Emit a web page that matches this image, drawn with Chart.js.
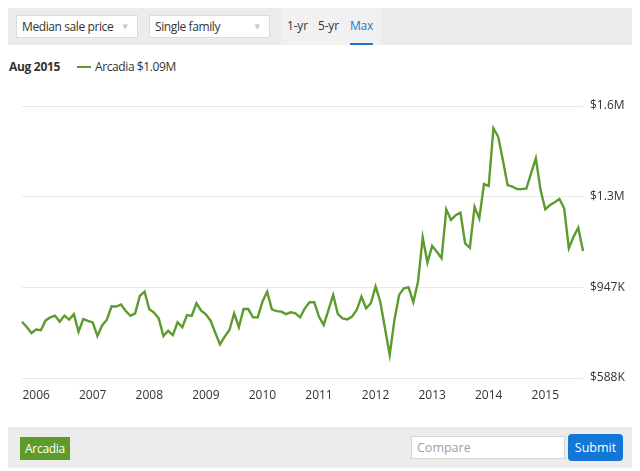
<!DOCTYPE html>
<html>
<head>
<meta charset="utf-8">
<script src="https://cdn.jsdelivr.net/npm/chart.js@4"></script>
<style>
  html, body { margin: 0; padding: 0; background: #fff; width: 640px; height: 471px; overflow: hidden; font-family: "Open Sans", "DejaVu Sans", sans-serif; color: #333; }
  .abs { position: absolute; }
  #topbar { left: 8px; top: 8px; width: 624px; height: 37px; background: #ececec; }
  #tabs { left: 281px; top: 8px; width: 100px; height: 37px; background: #f1f1f1; }
  .dd { background: #fff; border: 1px solid #dcdcdc; box-sizing: border-box; height: 23px; top: 15px; font-size: 12px; letter-spacing: -0.4px; line-height: 21px; padding-left: 5px; color: #333; }
  .dd span { position: absolute; right: 9px; top: 0; color: #c8c8c8; font-size: 7px; letter-spacing: 0; }
  .tab { top: 15px; font-size: 12px; letter-spacing: -0.2px; line-height: 22px; color: #333; }
  #max { color: #1a78cf; }
  #maxline { left: 350px; top: 43px; width: 23px; height: 2px; background: #1a78cf; }
  #date { left: 9px; top: 58px; font-size: 12px; letter-spacing: -0.3px; font-weight: bold; color: #333; line-height: 17px; }
  #legline { left: 77px; top: 66px; width: 14px; height: 2px; background: #5e9b2e; }
  #legtxt { left: 95px; top: 58px; font-size: 12px; letter-spacing: -0.4px; line-height: 17px; color: #333; }
  #chartwrap { left: 0; top: 90px; width: 640px; height: 330px; }
  #botbar { left: 8px; top: 427px; width: 624px; height: 41px; background: #ececec; }
  #arc { left: 20px; top: 437px; width: 50px; height: 23px; background: #5c9b2c; color: #fff; font-size: 12px; letter-spacing: -0.3px; line-height: 23px; text-align: center; }
  #cmp { left: 411px; top: 436px; width: 154px; height: 23px; background: #fff; border: 1px solid #d6d6d6; box-sizing: border-box; color: #a0a0a0; font-size: 12.5px; line-height: 21px; padding-left: 5px; }
  #sub { left: 568px; top: 434px; width: 55px; height: 27px; background: #1277d6; border-radius: 4px; color: #fff; font-size: 12.5px; line-height: 27px; text-align: center; }
</style>
</head>
<body>
<div id="topbar" class="abs"></div>
<div id="tabs" class="abs"></div>
<div class="abs dd" style="left:16px;width:122px;">Median sale price<span>▼</span></div>
<div class="abs dd" style="left:149px;width:121px;">Single family<span>▼</span></div>
<div class="abs tab" style="left:287px;">1-yr</div>
<div class="abs tab" style="left:318px;">5-yr</div>
<div class="abs tab" id="max" style="left:350px;">Max</div>
<div id="maxline" class="abs"></div>
<div id="date" class="abs">Aug 2015</div>
<div id="legline" class="abs"></div>
<div id="legtxt" class="abs">Arcadia $1.09M</div>
<div id="chartwrap" class="abs"><canvas id="c" width="640" height="330"></canvas></div>
<div id="botbar" class="abs"></div>
<div id="arc" class="abs">Arcadia</div>
<div id="cmp" class="abs">Compare</div>
<div id="sub" class="abs">Submit</div>
<script>
// Monthly median sale price, Arcadia, single family, Sep 2005 - Aug 2015 (values in $K)
const seriesName = "Arcadia";
const startYear = 2005, startMonth = 9;
const pricesK = [
  811, 790, 766, 780, 777, 816, 828, 835, 811, 835, 819, 841,
  771, 821, 814, 808, 754, 796, 819, 872, 871, 879, 853, 834,
  844, 913, 930, 860, 847, 824, 754, 775, 758, 809, 789, 837,
  834, 884, 855, 840, 815, 767, 721, 752, 778, 844, 789, 861,
  861, 828, 828, 890, 930, 860, 853, 851, 841, 848, 844, 828,
  864, 888, 888, 830, 798, 857, 917, 841, 824, 820, 831, 857,
  910, 864, 884, 950, 890, 785, 679, 818, 917, 943, 947, 888,
  969, 1144, 1045, 1111, 1088, 1062, 1256, 1214, 1233, 1243, 1121, 1104,
  1266, 1220, 1356, 1348, 1577, 1544, 1451, 1352, 1346, 1336, 1336, 1339,
  1399, 1458, 1332, 1256, 1273, 1284, 1297, 1260, 1102, 1148, 1183, 1091
];
const yearLabels = ["2006","2007","2008","2009","2010","2011","2012","2013","2014","2015"];
const yearTickIdx = [3, 15, 27, 39, 51, 63, 75, 87, 99, 111];
const yTickValues = [588000, 947000, 1306000, 1665000];
const yTickLabels = ["$588K", "$947K", "$1.3M", "$1.6M"];

const monthLabels = pricesK.map((_, i) => {
  const m = (startMonth - 1 + i) % 12 + 1;
  const y = startYear + Math.floor((startMonth - 1 + i) / 12);
  return y + "-" + String(m).padStart(2, "0");
});
const values = pricesK.map(v => v * 1000);

new Chart(document.getElementById("c"), {
  type: "line",
  data: {
    labels: monthLabels,
    datasets: [{
      label: seriesName,
      data: values,
      borderColor: "#5e9b2e",
      borderWidth: 2.4,
      pointRadius: 0,
      tension: 0,
      fill: false
    }]
  },
  options: {
    responsive: false,
    animation: false,
    devicePixelRatio: 1,
    layout: { padding: { left: 22, top: 16, right: 0, bottom: 0 } },
    plugins: { legend: { display: false }, tooltip: { enabled: false } },
    scales: {
      x: {
        type: "category",
        offset: false,
        grid: { display: false, drawTicks: false },
        border: { display: false },
        afterFit: s => { s.height = 42; },
        ticks: {
          autoSkip: false,
          maxRotation: 0,
          minRotation: 0,
          padding: 10,
          color: "#333",
          font: { family: "Open Sans", size: 12 },
          callback: (v, i) => {
            const k = yearTickIdx.indexOf(i);
            return k >= 0 ? yearLabels[k] : "";
          }
        }
      },
      y: {
        position: "right",
        min: yTickValues[0],
        max: yTickValues[yTickValues.length - 1],
        afterBuildTicks: s => { s.ticks = yTickValues.map(v => ({ value: v })); },
        afterFit: s => { s.width = 57; },
        grid: { color: "#e9e9e9", drawTicks: false, lineWidth: 1 },
        border: { display: false },
        ticks: {
          padding: 7,
          color: "#333",
          font: { family: "Open Sans", size: 12 },
          callback: v => {
            const k = yTickValues.indexOf(v);
            return k >= 0 ? yTickLabels[k] : "";
          }
        }
      }
    }
  }
});
</script>
</body>
</html>
